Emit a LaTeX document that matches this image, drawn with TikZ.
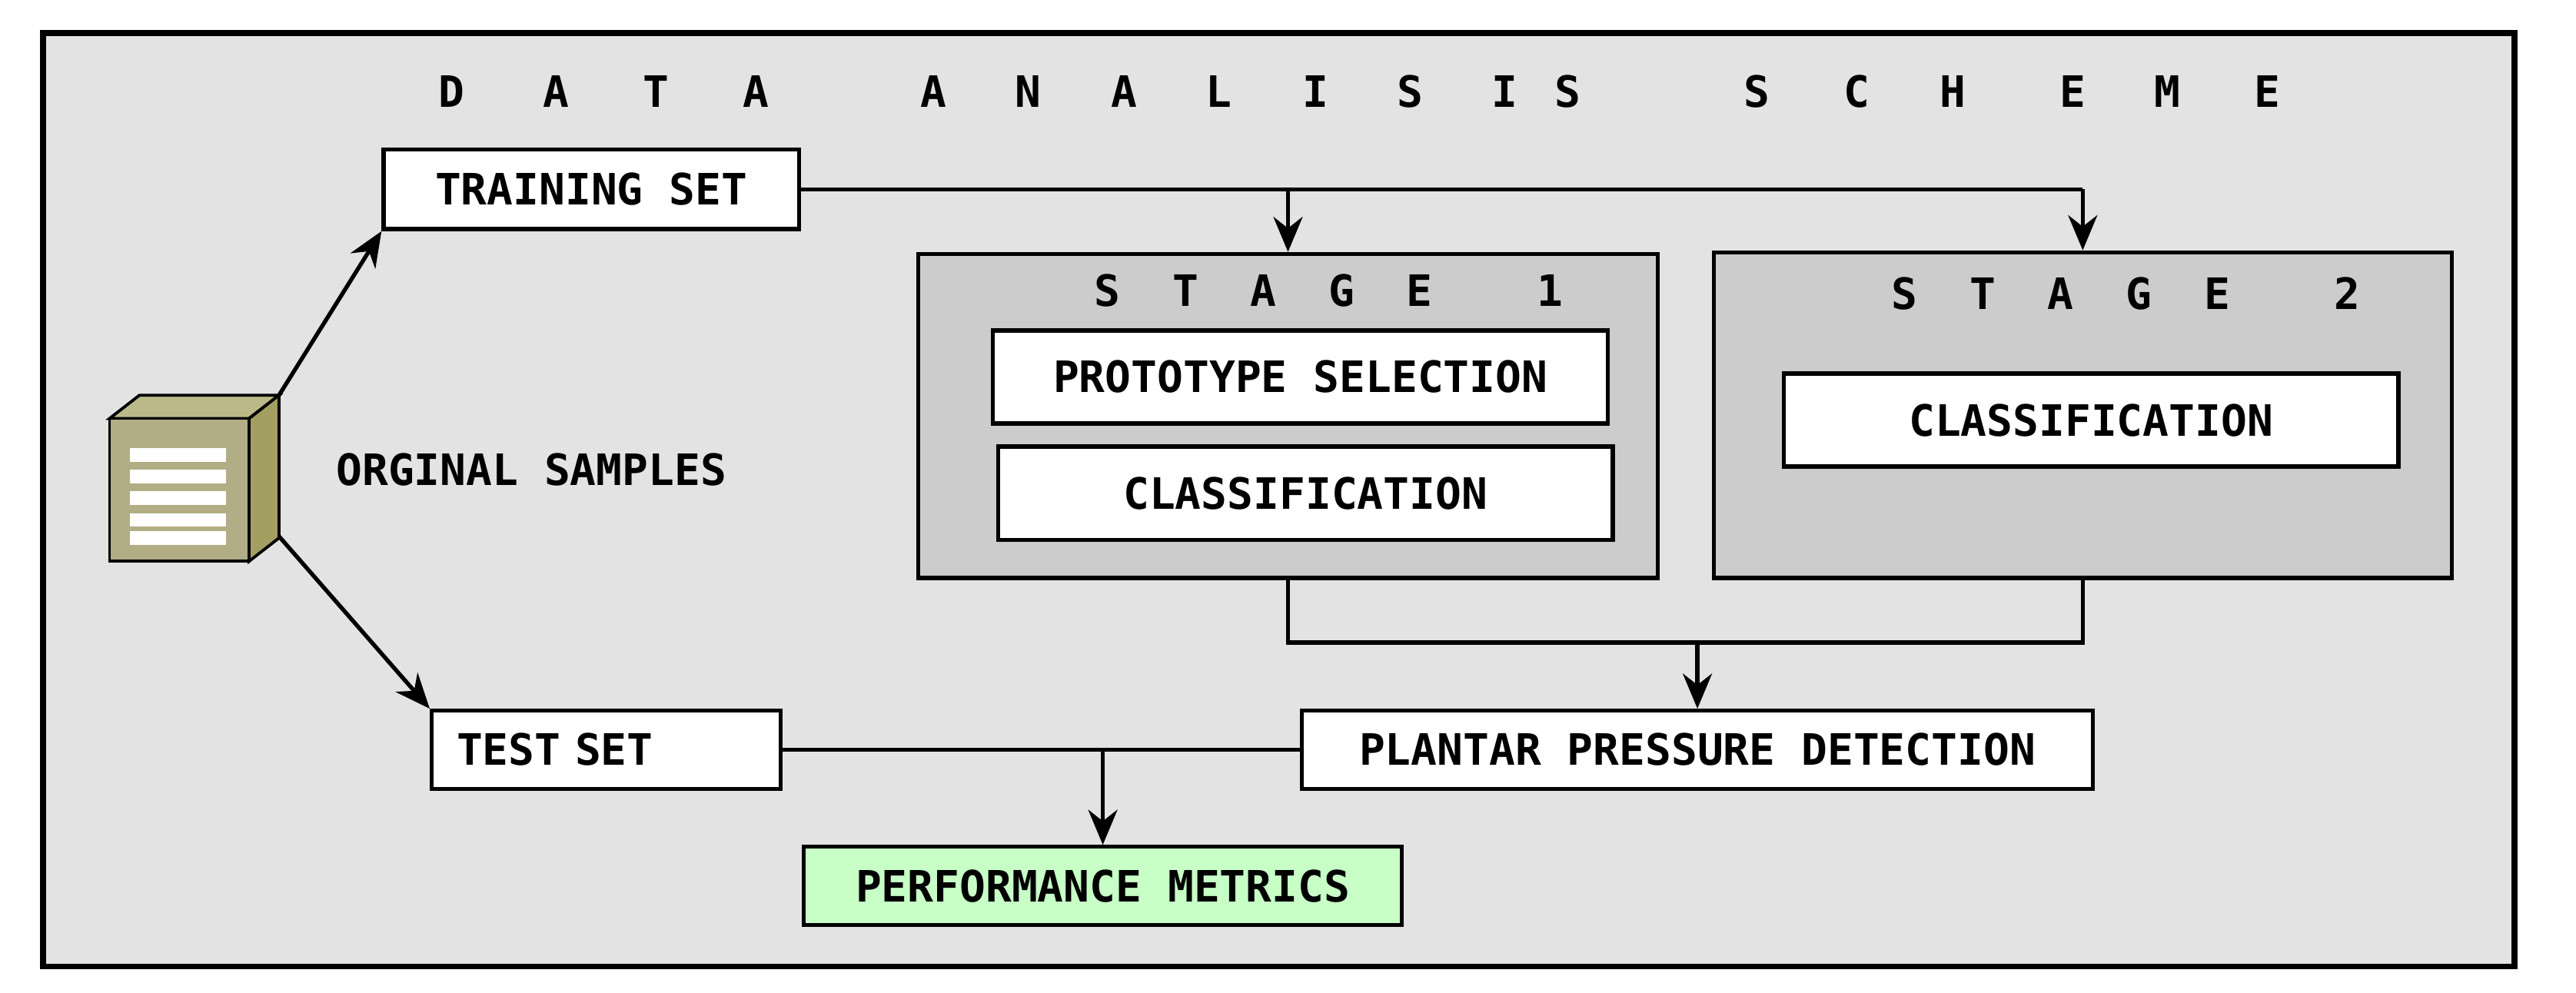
\documentclass[tikz,border=0pt]{standalone}
\usepackage{fontspec}
\newfontfamily\mymono{DejaVu Sans Mono}
\usetikzlibrary{arrows.meta}
\begin{document}
\begin{tikzpicture}[x=0.01cm,y=-0.01cm,
  txt/.style={font=\mymono\bfseries\fontsize{7.4}{9}\selectfont},
  box/.style={draw=black,line width=0.7pt,fill=white,txt,inner sep=0pt},
  stage/.style={draw=black,line width=0.7pt,fill=gray!40!white},
  ln/.style={line width=0.7pt},
  arr/.style={ln,-{Stealth[length=6pt,width=5pt]}}]
\useasboundingbox (0,0) rectangle (1551,598);
\fill[white] (0,0) rectangle (1551,598);
\draw[line width=1pt,fill=gray!22!white] (26,20) rectangle (1514,582);
% title
\foreach \l/\x in {D/272,A/335,T/395,A/455,A/562,N/619,A/677,L/734,I/792,S/849,I/906,S/944,S/1058,C/1118,H/1176,E/1248,M/1305,E/1365}
  \node[txt] at (\x,55) {\l};
% stages
\node[stage,minimum width=4.45cm,minimum height=1.95cm] (s1) at (775.5,250.5) {};
\node[stage,minimum width=4.44cm,minimum height=1.96cm] (s2) at (1254,250) {};
\node[txt] at (800,175) {S\ \ T\ \ A\ \ G\ \ E\ \ \ \ 1};
\node[txt] at (1280,177) {S\ \ T\ \ A\ \ G\ \ E\ \ \ \ 2};
\node[box,minimum width=3.70cm,minimum height=0.56cm] (ps) at (783,227) {PROTOTYPE SELECTION};
\node[box,minimum width=3.70cm,minimum height=0.56cm] (c1) at (786,297) {CLASSIFICATION};
\node[box,minimum width=3.70cm,minimum height=0.56cm] (c2) at (1259,253) {CLASSIFICATION};
% boxes
\node[box,minimum width=2.50cm,minimum height=0.48cm] (tr) at (356,114) {TRAINING SET};
\node[box,minimum width=2.10cm,minimum height=0.47cm,text width=1.8cm] (te) at (365,451.5) {TEST SET};
\node[box,fill=green!22!white,minimum width=3.60cm,minimum height=0.47cm] (pm) at (664,533.5) {PERFORMANCE METRICS};
\node[box,minimum width=4.76cm,minimum height=0.47cm] (pp) at (1022,451.5) {PLANTAR PRESSURE DETECTION};
% icon
\draw[line width=0.5pt,fill=olive!45!gray!60!white] (66,252) -- (84,238) -- (168,238) -- (150,252) -- cycle;
\draw[line width=0.5pt,fill=olive!60!gray!90!black!75] (150,252) -- (168,238) -- (168,324) -- (150,338) -- cycle;
\draw[line width=0.5pt,fill=olive!35!gray!70!white] (66,252) rectangle (150,338);
\foreach \y in {270,283,296,309,320} \fill[white] (78,\y) rectangle (136,\y+8);
\coordinate (ic1) at (168,238);
\coordinate (ic2) at (168,323);
\node[txt,anchor=west] (os) at (190,283) {ORGINAL SAMPLES};
% connectors
\draw[arr] (ic1) -- (tr.south west);
\draw[arr] (ic2) -- (te.north west);
\coordinate (j2) at (1254,114);
\coordinate (j1) at (775.5,114);
\draw[ln] (tr.east) -- (j2);
\draw[arr] (j1) -- (j1|-s1.north);
\draw[arr] (j2) -- (s2.north);
\coordinate (b1) at (775.5,387);
\coordinate (b2) at (1254,387);
\coordinate (bm) at (1022,387);
\draw[ln] (s1.south) -- (b1) -- (b2) -- (s2.south);
\draw[arr] (bm) -- (pp.north);
\coordinate (tm) at (664,451.5);
\draw[ln] (te.east) -- (pp.west);
\draw[arr] (tm) -- (pm.north);
\end{tikzpicture}
\end{document}
